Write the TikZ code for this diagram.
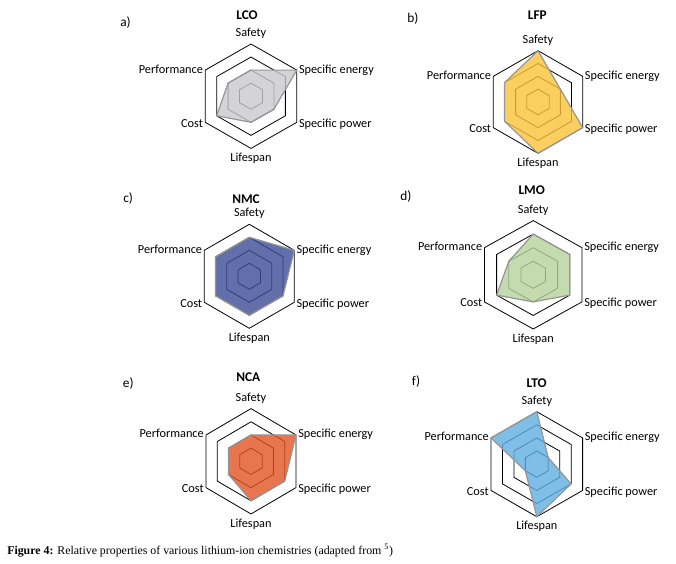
\documentclass[tikz,border=0pt]{standalone}
\usepackage{fontspec}
\setmainfont{Carlito}
\newfontfamily\capfont{Liberation Serif}
\definecolor{polyline}{RGB}{150,150,150}
\definecolor{lcofill}{RGB}{202,202,207}
\definecolor{lfpfill}{RGB}{251,196,56}
\definecolor{nmcfill}{RGB}{61,76,149}
\definecolor{lmofill}{RGB}{181,211,156}
\definecolor{ncafill}{RGB}{226,84,36}
\definecolor{ltofill}{RGB}{96,174,226}
\tikzset{
  ring/.style={draw=black, line width=0.6pt},
  poly/.style={fill=#1, fill opacity=0.8, draw=polyline, line width=0.9pt, line join=miter},
  lbl/.style={font=\fontsize{9.2}{11}\selectfont, inner sep=0pt, text height=6.4pt, text depth=1.9pt},
  ttl/.style={font=\bfseries\fontsize{10}{12}\selectfont, inner sep=0pt},
  pnl/.style={font=\fontsize{10}{12}\selectfont, inner sep=0pt, anchor=west},
}
\newcommand\hexring[1]{(0,#1) -- (#1,#1/2) -- (#1,-#1/2) -- (0,-#1) -- (-#1,-#1/2) -- (-#1,#1/2) -- cycle}
\newcommand\radarpoly[6]{(0,#1/4) -- (#2/4,#2/8) -- (#3/4,-#3/8) -- (0,-#4/4) -- (-#5/4,-#5/8) -- (-#6/4,#6/8) -- cycle}
\newcommand\chartframe[1]{%
  \draw[ring] \hexring{0.25};
  \draw[ring] \hexring{0.5};
  \draw[ring] \hexring{0.75};
  \draw[ring] \hexring{1};
  \coordinate (#1S) at (0,1);
  \coordinate (#1SE) at (1,0.5);
  \coordinate (#1SP) at (1,-0.5);
  \coordinate (#1L) at (0,-1);
  \coordinate (#1C) at (-1,-0.5);
  \coordinate (#1P) at (-1,0.5);
}
\newcommand\chartlabels[1]{%
  \node[lbl] (#1tS) at ([yshift=7.9pt]#1S) {Safety};
  \node[lbl, anchor=west] (#1tSE) at ([xshift=1.5pt]#1SE) {Specific energy};
  \node[lbl, anchor=west] (#1tSP) at ([xshift=1.5pt,yshift=-1.5pt]#1SP) {Specific power};
  \node[lbl] (#1tL) at ([yshift=-7.7pt]#1L) {Lifespan};
  \node[lbl, anchor=east] (#1tC) at ([xshift=-1.5pt,yshift=-1.5pt]#1C) {Cost};
  \node[lbl, anchor=east] (#1tP) at ([xshift=-1.5pt]#1P) {Performance};
}
\begin{document}
\begin{tikzpicture}[x=0.75pt, y=-0.75pt]
\useasboundingbox[fill=white] (0,0) rectangle (676,564);

% a) LCO
\begin{scope}[shift={(251,96.2)}, x=34.35pt, y=39.15pt]
  \chartframe{a}
  \draw[poly=lcofill] \radarpoly{2}{4}{2}{2}{3}{2};
  \chartlabels{a}
\end{scope}
\node[ttl] (aT) at (247,15) {LCO};
\node[pnl] (aN) at (120,23) {a)};

% b) LFP
\begin{scope}[shift={(538,102)}, x=33.53pt, y=38.48pt]
  \chartframe{b}
  \draw[poly=lfpfill] \radarpoly{4}{2}{4}{4}{3}{3};
  \chartlabels{b}
\end{scope}
\node[ttl] (bT) at (537.3,15) {LFP};
\node[pnl] (bN) at (407,18.3) {b)};

% c) NMC
\begin{scope}[shift={(249.3,276.3)}, x=33.75pt, y=39pt]
  \chartframe{c}
  \draw[poly=nmcfill] \radarpoly{3}{4}{3}{3}{3}{3};
  \chartlabels{c}
\end{scope}
\node[ttl] (cT) at (246,199.3) {NMC};
\node[pnl] (cN) at (123,198.3) {c)};

% d) LMO
\begin{scope}[shift={(533.2,274.8)}, x=36.6pt, y=40.65pt]
  \chartframe{d}
  \draw[poly=lmofill] \radarpoly{3}{3}{3}{2}{3}{2};
  \chartlabels{d}
\end{scope}
\node[ttl] (dT) at (531.7,190) {LMO};
\node[pnl] (dN) at (400,196.7) {d)};

% e) NCA
\begin{scope}[shift={(251,461.3)}, x=33.75pt, y=39.5pt]
  \chartframe{e}
  \draw[poly=ncafill] \radarpoly{2}{4}{3}{3}{2}{2};
  \chartlabels{e}
\end{scope}
\node[ttl] (eT) at (248.3,376.7) {NCA};
\node[pnl] (eN) at (122.7,383.3) {e)};

% f) LTO
\begin{scope}[shift={(536.8,464.2)}, x=34.35pt, y=39.38pt]
  \chartframe{f}
  \draw[poly=ltofill] \radarpoly{4}{1}{3}{4}{1}{4};
  \chartlabels{f}
\end{scope}
\node[ttl] (fT) at (536.7,383.3) {LTO};
\node[pnl] (fN) at (411.7,381.7) {f)};

\node[anchor=west, inner sep=0pt, font=\capfont\fontsize{8.9}{10}\selectfont] (cap) at (7,551)
  {\textbf{Figure 4:} Relative properties of various lithium-ion chemistries (adapted from \textsuperscript{5})};
\end{tikzpicture}
\end{document}
